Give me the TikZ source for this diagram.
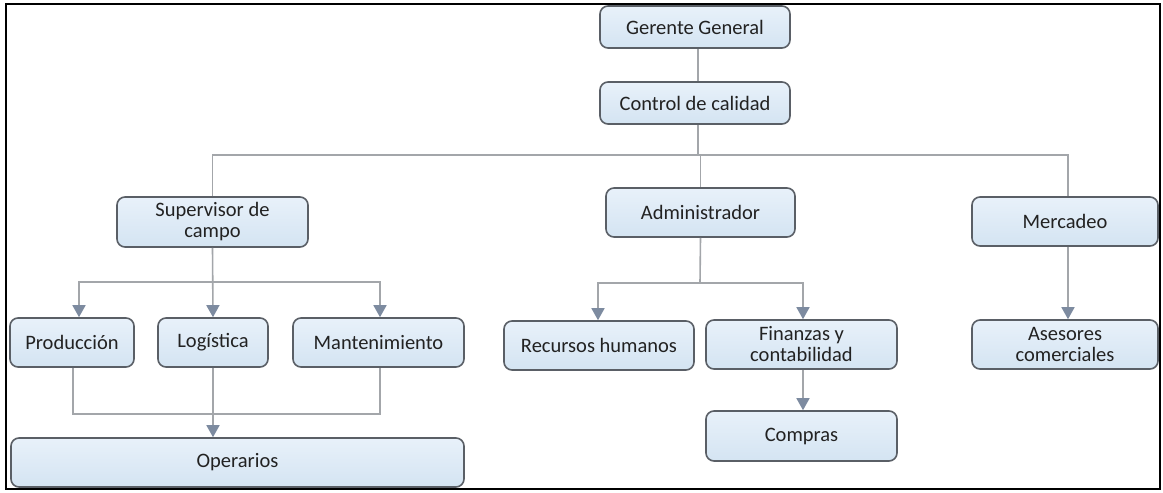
\documentclass[tikz,border=0pt]{standalone}
\usepackage{fontspec}
\setmainfont{Carlito}
\usetikzlibrary{arrows.meta,calc}
\definecolor{boxfillA}{HTML}{E8F1FA}
\definecolor{boxfillB}{HTML}{D4E4F2}
\definecolor{boxline}{HTML}{5A5F66}
\definecolor{conn}{HTML}{A3A6AA}
\definecolor{tipcol}{HTML}{7D8BA0}
\definecolor{txt}{HTML}{222222}
\tikzset{
  orgbox/.style={draw=boxline, line width=1.6pt, rounded corners=8pt,
    top color=boxfillA, bottom color=boxfillB, text=txt,
    font=\fontsize{20.5}{21}\selectfont, align=center, inner sep=0pt},
  link/.style={draw=conn, line width=1.6pt},
  arr/.style={link, -{Triangle[length=12pt,width=13pt,color=tipcol]}},
}
\begin{document}
\begin{tikzpicture}[x=1pt,y=1pt]
\useasboundingbox (0,0) rectangle (1163,-493);
\fill[white] (0,0) rectangle (1163,-493);
\draw[line width=2pt,black] (6,-4) rectangle (1160,-489);

\node[orgbox, minimum width=190, minimum height=42] (gg) at (695,-27) {Gerente General};
\node[orgbox, minimum width=190, minimum height=42] (cc) at (695,-103) {Control de calidad};
\node[orgbox, minimum width=191, minimum height=50] (sup) at (212.5,-222) {Supervisor de\\campo};
\node[orgbox, minimum width=189, minimum height=49] (adm) at (700.5,-212.5) {Administrador};
\node[orgbox, minimum width=186, minimum height=49] (mer) at (1065,-221.5) {Mercadeo};
\node[orgbox, minimum width=124, minimum height=49] (prod) at (72,-342.5) {Producción};
\node[orgbox, minimum width=110, minimum height=49] (log) at (213,-342.5) {Logística};
\node[orgbox, minimum width=171, minimum height=49] (mant) at (378.5,-342.5) {Mantenimiento};
\node[orgbox, minimum width=453, minimum height=49] (ope) at (237.5,-462.5) {Operarios};
\node[orgbox, minimum width=190, minimum height=49] (rh) at (599,-345.5) {Recursos humanos};
\node[orgbox, minimum width=191, minimum height=49] (fin) at (801.5,-344.5) {Finanzas y\\contabilidad};
\node[orgbox, minimum width=191, minimum height=50] (com) at (801.5,-436) {Compras};
\node[orgbox, minimum width=186, minimum height=49] (ase) at (1065,-344.5) {Asesores\\comerciales};

\coordinate (bus) at (698,-155);
\coordinate (ssplit) at (213,-282);
\coordinate (sjoin) at (213,-414);
\coordinate (asplit) at (700,-283);

\draw[link] ([xshift=3pt]gg.south) -- ([xshift=3pt]cc.south |- cc.north);
\draw[link] ([xshift=3pt]cc.south) -- (bus) -- (bus -| adm.north) -- (adm.north);
\draw[link] (sup.north) |- (bus) -| ([xshift=3pt]mer.north);

\draw[arr] (sup.south) -- (log.north);
\draw[arr] (ssplit) -| ([xshift=7pt]prod.north);
\draw[arr] (ssplit) -| ([xshift=1.5pt]mant.north);
\draw[link] ([xshift=1pt]prod.south) |- (sjoin) -| ([xshift=1.5pt]mant.south);
\draw[arr] (log.south) -- (log.south |- ope.north);

\draw[link] (adm.south) -- (asplit);
\draw[arr] (asplit) -| ([xshift=-1pt]rh.north);
\draw[arr] (asplit) -| ([xshift=1.5pt]fin.north);
\draw[arr] ([xshift=1.5pt]fin.south) -- ([xshift=1.5pt]com.north);
\draw[arr] ([xshift=3pt]mer.south) -- ([xshift=3pt]ase.north);
\end{tikzpicture}
\end{document}
